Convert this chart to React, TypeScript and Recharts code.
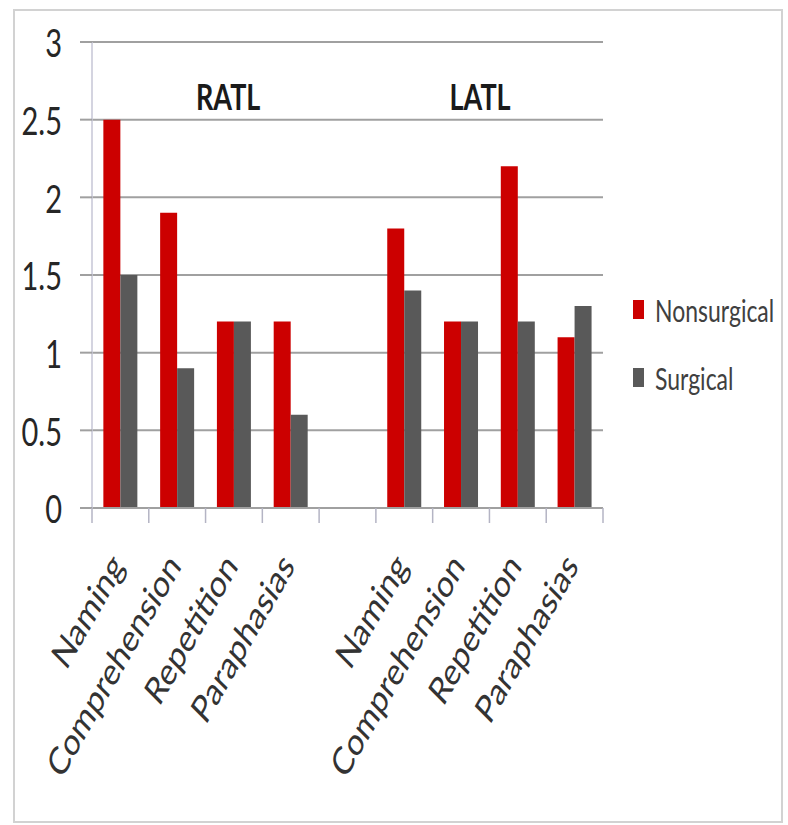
import { BarChart, Bar, XAxis, YAxis, CartesianGrid, Legend, ReferenceDot } from "recharts"

const groupNames = ["RATL", "LATL"]
const categories = ["Naming", "Comprehension", "Repetition", "Paraphasias", "", "Naming", "Comprehension", "Repetition", "Paraphasias"]
const categoryGroup = [0, 0, 0, 0, -1, 1, 1, 1, 1]
const nonsurgical = [2.5, 1.9, 1.2, 1.2, null, 1.8, 1.2, 2.2, 1.1]
const surgical = [1.5, 0.9, 1.2, 0.6, null, 1.4, 1.2, 1.2, 1.3]
const yTicks = [0, 0.5, 1, 1.5, 2, 2.5, 3]
const seriesNames = ["Nonsurgical", "Surgical"]
const colors = ["#cc0000", "#595959"]

const rows = categories.map((name, i) => ({
  key: categoryGroup[i] < 0 ? "gap" : `${groupNames[categoryGroup[i]]}-${name}`,
  name,
  nonsurgical: nonsurgical[i],
  surgical: surgical[i],
}))

// group titles sit above the "Comprehension" column of each group, nudged right
const groupAnchor = [
  { key: "RATL-Comprehension", label: groupNames[0], dx: 51 },
  { key: "LATL-Comprehension", label: groupNames[1], dx: 19 },
]

const font = "Lato, 'Open Sans', sans-serif"
const stretch = 1.33

function YTick(props: any) {
  const { x, y, payload } = props
  return (
    <text
      transform={`translate(${x},${y}) scale(1,${stretch})`}
      textAnchor="end"
      dominantBaseline="central"
      fontFamily={font}
      fontSize={29}
      fill="#262626"
    >
      {payload.value}
    </text>
  )
}

function CatTick(props: any) {
  const { x, y, payload, index, visibleTicksCount } = props
  const half = payload.offset || 0
  const label = categories[index] || ""
  const axisY = y - 8
  return (
    <g>
      {half > 0 && (
        <line x1={x - half} x2={x - half} y1={axisY} y2={axisY + 15} stroke="#b4b4c4" strokeWidth={1.5} />
      )}
      {half > 0 && index === visibleTicksCount - 1 && (
        <line x1={x + half} x2={x + half} y1={axisY} y2={axisY + 15} stroke="#b4b4c4" strokeWidth={1.5} />
      )}
      {label && (
        <text
          transform={`translate(${x + 5},567) scale(1,${stretch}) rotate(-53)`}
          textAnchor="end"
          fontFamily={font}
          fontSize={29}
          fill="#333"
        >
          {label}
        </text>
      )}
    </g>
  )
}

function GroupLabel(props: any) {
  const { viewBox, value, shift } = props
  const cx = viewBox.x + (viewBox.width || 0) / 2 + shift
  const cy = viewBox.y + (viewBox.height || 0) / 2
  return (
    <text
      transform={`translate(${cx},${cy}) scale(1,${stretch})`}
      textAnchor="middle"
      dominantBaseline="central"
      fontFamily={font}
      fontWeight="bold"
      fontSize={27}
      fill="#1a1a1a"
    >
      {value}
    </text>
  )
}

function LegendBox() {
  return (
    <svg width={160} height={110}>
      {seriesNames.map((s, i) => (
        <g key={s} transform={`translate(0,${i * 68 + 2})`}>
          <rect x={4} y={8} width={11} height={19} fill={colors[i]} />
          <text
            transform={`translate(26,18) scale(1,${stretch})`}
            dominantBaseline="central"
            fontFamily={font}
            fontSize={23}
            fill="#404040"
          >
            {s}
          </text>
        </g>
      ))}
    </svg>
  )
}

export default function App() {
  return (
    <div style={{ position: "absolute", left: 0, top: 0, width: 788, height: 825, background: "#fff" }}>
      <div
        style={{
          position: "absolute",
          left: 13,
          top: 9,
          width: 766,
          height: 810,
          border: "2px solid #d2d2d2",
        }}
      />
      <BarChart
        width={788}
        height={825}
        data={rows}
        margin={{ top: 42, right: 185, bottom: 17, left: 0 }}
        barCategoryGap="20%"
        barGap={0}
      >
        <CartesianGrid vertical={false} stroke="#a0a0a0" strokeWidth={2} />
        <XAxis
          dataKey="key"
          interval={0}
          height={300}
          tick={<CatTick />}
          tickLine={false}
          axisLine={{ stroke: "#a0a0a0", strokeWidth: 2 }}
        />
        <YAxis
          width={92}
          domain={[0, 3]}
          ticks={yTicks}
          interval={0}
          tickSize={12}
          tickMargin={18}
          tick={<YTick />}
          axisLine={{ stroke: "#c6c6d6", strokeWidth: 1.5 }}
          tickLine={{ stroke: "#a0a0a0", strokeWidth: 2 }}
        />
        <Bar dataKey="nonsurgical" name={seriesNames[0]} fill={colors[0]} isAnimationActive={false} />
        <Bar dataKey="surgical" name={seriesNames[1]} fill={colors[1]} isAnimationActive={false} />
        {groupAnchor.map((g) => (
          <ReferenceDot
            key={g.label}
            x={g.key}
            y={2.65}
            r={0}
            stroke="none"
            fill="none"
            label={<GroupLabel value={g.label} shift={g.dx} />}
          />
        ))}
        <Legend
          layout="horizontal"
          verticalAlign="middle"
          align="center"
          content={<LegendBox />}
          wrapperStyle={{ position: "absolute", left: 629, top: 290, width: 160 }}
        />
      </BarChart>
    </div>
  )
}
